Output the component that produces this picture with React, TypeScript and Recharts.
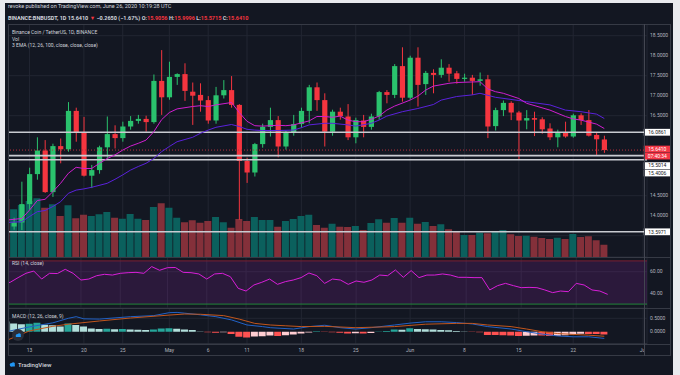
import React from 'react'
import {
  Bar,
  CartesianGrid,
  Cell,
  ComposedChart,
  Line,
  ReferenceArea,
  ReferenceLine,
  XAxis,
  YAxis,
} from 'recharts'

// daily candles, 10 Apr -> 26 Jun 2020, plus empty days up to 1 Jul
const DAYS = [
  '4/10', '4/11', '4/12', '4/13', '4/14', '4/15', '4/16', '4/17', '4/18', '4/19', '4/20',
  '4/21', '4/22', '4/23', '4/24', '4/25', '4/26', '4/27', '4/28', '4/29', '4/30',
  '5/1', '5/2', '5/3', '5/4', '5/5', '5/6', '5/7', '5/8', '5/9', '5/10', '5/11', '5/12',
  '5/13', '5/14', '5/15', '5/16', '5/17', '5/18', '5/19', '5/20', '5/21', '5/22', '5/23',
  '5/24', '5/25', '5/26', '5/27', '5/28', '5/29', '5/30', '5/31',
  '6/1', '6/2', '6/3', '6/4', '6/5', '6/6', '6/7', '6/8', '6/9', '6/10', '6/11', '6/12',
  '6/13', '6/14', '6/15', '6/16', '6/17', '6/18', '6/19', '6/20', '6/21', '6/22', '6/23',
  '6/24', '6/25', '6/26', '6/27', '6/28', '6/29', '6/30', '7/1',
]

const OPEN = [
  15.02, 13.73, 13.83, 14.29, 15.04, 15.63, 14.59, 15.74, 15.66, 16.62, 16.08,
  15.0, 15.14, 15.71, 16.04, 15.94, 16.23, 16.37, 16.42, 16.34, 17.37,
  16.96, 17.47, 17.54, 17.1, 17.02, 16.89, 16.38, 17.01, 17.14, 16.77, 15.37, 15.08,
  15.79, 16.22, 16.39, 15.73, 16.08, 16.29, 16.62, 17.21, 16.89, 16.1, 16.6,
  16.48, 15.96, 16.38, 16.22, 16.48, 17.09, 17.02, 17.74,
  16.95, 17.95, 17.29, 17.57, 17.52, 17.7, 17.56, 17.42, 17.45, 17.37, 17.41, 16.24,
  16.64, 16.82, 16.58, 16.38, 16.44, 16.41, 16.18, 15.96, 16.08, 15.98, 16.51,
  16.39, 16.02, 15.9056,
]
const HIGH = [
  15.1, 13.95, 14.85, 15.2, 15.96, 15.89, 15.8, 15.93, 16.84, 16.7, 16.47,
  15.27, 15.75, 16.48, 16.26, 16.35, 16.49, 16.52, 16.5, 17.53, 18.14,
  17.85, 17.56, 17.81, 17.33, 17.31, 16.99, 17.22, 17.39, 17.49, 16.79, 15.45, 15.82,
  16.3, 16.7, 16.49, 16.12, 16.52, 16.7, 17.27, 17.33, 17.06, 16.65, 16.7,
  16.79, 16.45, 16.52, 16.55, 17.12, 17.14, 17.79, 18.21,
  18.0, 18.21, 17.62, 17.66, 17.91, 17.79, 17.62, 17.55, 17.52, 17.58, 17.52, 16.7,
  16.88, 16.86, 16.62, 16.64, 16.6, 16.46, 16.31, 16.15, 16.35, 16.55, 16.56,
  16.64, 16.08, 15.9996,
]
const LOW = [
  13.6, 13.65, 13.64, 14.15, 14.9, 14.57, 14.47, 15.31, 15.6, 15.85, 14.98,
  14.69, 15.05, 15.43, 15.68, 15.85, 16.15, 16.3, 16.1, 16.3, 16.52,
  16.9, 17.27, 16.87, 16.27, 16.6, 16.3, 16.3, 16.93, 16.7, 13.9, 14.82, 14.98,
  15.7, 15.98, 15.46, 15.65, 16.0, 16.2, 16.31, 16.62, 15.73, 16.0, 16.4,
  15.89, 15.81, 15.96, 16.15, 16.4, 16.81, 16.94, 16.85,
  16.9, 16.73, 17.02, 17.06, 17.45, 17.35, 17.3, 17.35, 17.02, 17.25, 15.94, 16.13,
  16.49, 16.39, 15.41, 16.16, 15.99, 16.05, 15.89, 15.71, 15.95, 15.95, 16.27,
  15.98, 15.52, 15.5715,
]
const CLOSE = [
  13.75, 13.83, 14.29, 15.04, 15.63, 14.59, 15.74, 15.66, 16.62, 16.08, 15.0,
  15.14, 15.71, 16.04, 15.94, 16.23, 16.37, 16.42, 16.34, 17.37, 16.96,
  17.47, 17.54, 17.12, 17.0, 16.88, 16.38, 17.01, 17.14, 16.77, 15.37, 15.08, 15.79,
  16.22, 16.39, 15.73, 16.08, 16.29, 16.62, 17.21, 16.89, 16.1, 16.6, 16.49,
  15.96, 16.39, 16.22, 16.48, 17.09, 17.02, 17.74, 16.95,
  17.95, 17.27, 17.57, 17.52, 17.7, 17.55, 17.42, 17.45, 17.37, 17.41, 16.23, 16.64,
  16.82, 16.58, 16.38, 16.44, 16.4, 16.16, 15.96, 16.08, 15.98, 16.51, 16.39,
  16.0, 15.91, 15.641,
]
// volume, in tens of thousands of BNB
const VOLUME = [
  58, 47.7, 52, 56, 58.7, 49.3, 52.7, 41, 51.7, 38.7, 42.3,
  41, 42.7, 45, 39.3, 38.3, 43, 38.3, 37, 50, 53.7,
  49.3, 39.3, 34.7, 36.7, 34.3, 36, 40, 34.7, 29.3, 38, 36, 40,
  37, 37, 30.3, 36, 38, 41, 42.3, 32, 29.3, 33.3, 30.3,
  30, 31, 27, 34, 37.7, 34.3, 39, 34.3,
  39.3, 33.3, 35, 31, 32.7, 27.7, 25.3, 22, 22, 24.3, 23.7, 25.3,
  27, 22.7, 21, 21.3, 20.3, 19, 18, 19.3, 18, 23, 20,
  20.7, 16.7, 12.3,
]
const RSI = [
  48.5, 50.2, 54.5, 58.5, 60.6, 53.2, 58.5, 58.3, 62.2, 58.5, 52.3,
  53.2, 56.3, 57.6, 56.9, 58.5, 59.1, 59.4, 58.5, 64.7, 61.3,
  63.7, 63.9, 59.4, 59.1, 57.9, 53.2, 57.9, 58.5, 55.4, 44.6, 42.1, 47.7,
  50.2, 53.2, 48.3, 50.8, 52.3, 54.5, 58.8, 56.3, 49.2, 53.2, 52.3,
  48.3, 51.4, 50.2, 52.3, 56.9, 56.3, 61.6, 54.8,
  61.0, 54.5, 56.9, 56.9, 57.9, 56.9, 54.8, 54.8, 54.5, 54.5, 43.1, 47.1,
  49.2, 47.1, 45.2, 45.5, 45.2, 43.1, 40.6, 42.1, 41.5, 49.2, 47.7,
  43.1, 42.1, 39.0,
]
const MACD_HIST = [
  0.38, 0.31, 0.28, 0.3, 0.33, 0.26, 0.24, 0.19, 0.31, 0.25, 0.19,
  0.12, 0.1, 0.11, 0.09, 0.1, 0.08, 0.07, 0.06, 0.08, 0.12,
  0.13, 0.11, 0.08, 0.06, 0.01, -0.02, -0.04, -0.02, -0.09, -0.19, -0.22, -0.18,
  -0.17, -0.14, -0.16, -0.13, -0.1, -0.07, -0.03, 0.02, -0.01, -0.02, -0.04,
  -0.07, -0.06, -0.07, -0.05, 0.01, 0.03, 0.08, 0.07,
  0.13, 0.1, 0.09, 0.08, 0.06, 0.05, 0.03, 0.01, -0.01, -0.02, -0.12, -0.125,
  -0.13, -0.14, -0.16, -0.15, -0.14, -0.145, -0.16, -0.15, -0.13, -0.1, -0.08,
  -0.085, -0.09, -0.1,
]

// [day index, value]
const EMA12: [number, number][] = [
  [0, 13.89], [2, 13.93], [3, 14.14], [4, 14.38], [5, 14.41], [6, 14.6], [7, 14.81],
  [8, 15.06], [9, 15.21], [10, 15.18], [11, 15.18], [12, 15.31], [13, 15.43], [14, 15.52],
  [15, 15.64], [16, 15.74], [17, 15.81], [18, 15.89], [19, 16.1], [20, 16.4], [21, 16.58],
  [22, 16.67], [24, 16.73], [25, 16.75], [26, 16.73], [27, 16.77], [29, 16.83], [30, 16.58],
  [31, 16.36], [32, 16.25], [33, 16.24], [35, 16.26], [36, 16.25], [37, 16.27], [39, 16.37],
  [40, 16.48], [41, 16.48], [42, 16.46], [43, 16.49], [44, 16.39], [45, 16.35], [46, 16.35],
  [47, 16.41], [48, 16.49], [49, 16.64], [50, 16.74], [52, 16.89], [53, 16.99], [54, 17.14],
  [55, 17.24], [57, 17.31], [58, 17.33], [61, 17.35], [62, 17.17], [63, 17.1], [64, 17.06],
  [66, 16.93], [67, 16.81], [70, 16.64], [72, 16.48], [73, 16.42], [74, 16.39], [76, 16.29],
  [77, 16.18],
]
const EMA26: [number, number][] = [
  [0, 13.83], [2, 13.85], [3, 13.98], [4, 14.1], [5, 14.13], [6, 14.23], [7, 14.35],
  [8, 14.56], [9, 14.64], [10, 14.67], [11, 14.71], [13, 14.81], [14, 14.91], [15, 15.02],
  [16, 15.14], [17, 15.23], [18, 15.31], [19, 15.43], [20, 15.6], [21, 15.73], [22, 15.85],
  [24, 15.96], [25, 16.06], [26, 16.14], [27, 16.21], [29, 16.28], [30, 16.23], [31, 16.16],
  [32, 16.14], [33, 16.13], [35, 16.13], [37, 16.14], [38, 16.2], [39, 16.27], [41, 16.31],
  [42, 16.31], [44, 16.27], [45, 16.24], [47, 16.31], [48, 16.39], [49, 16.49], [51, 16.6],
  [53, 16.68], [55, 16.78], [56, 16.89], [58, 16.98], [60, 17.02], [61, 17.06], [63, 16.96],
  [66, 16.88], [67, 16.85], [70, 16.77], [72, 16.64], [74, 16.6], [76, 16.54], [77, 16.43],
]
const MACD_LINE: [number, number][] = [
  [0, 0.0], [3, 0.18], [6, 0.33], [8, 0.5], [9, 0.56], [10, 0.48], [12, 0.47], [16, 0.56],
  [19, 0.6], [21, 0.71], [22, 0.72], [23, 0.69], [25, 0.63], [27, 0.56], [29, 0.44],
  [31, 0.25], [33, 0.19], [34, 0.15], [37, 0.1], [39, 0.19], [41, 0.24], [43, 0.15],
  [45, 0.1], [47, 0.15], [50, 0.25], [52, 0.32], [54, 0.37], [56, 0.37], [58, 0.34],
  [60, 0.29], [62, 0.19], [65, 0.1], [67, 0.0], [69, -0.09], [71, -0.16], [73, -0.19],
  [75, -0.19], [77, -0.25],
]
const MACD_SIGNAL: [number, number][] = [
  [0, -0.33], [3, 0.03], [6, 0.2], [8, 0.28], [12, 0.4], [16, 0.51], [21, 0.62], [23, 0.66],
  [25, 0.65], [28, 0.6], [30, 0.47], [32, 0.31], [34, 0.25], [36, 0.22], [38, 0.19],
  [41, 0.2], [45, 0.15], [50, 0.19], [54, 0.28], [58, 0.31], [60, 0.31], [62, 0.25],
  [65, 0.19], [67, 0.1], [69, 0.0], [71, -0.07], [73, -0.1], [75, -0.13], [77, -0.17],
]

const LEVELS = [16.0861, 15.5014, 15.4006, 13.5971]
const LEVEL_SHIFT = [0, 10, 13.3, 0] // label pushed down so tags don't overlap
const LAST_PRICE = 15.641
const COUNTDOWN = '07:40:34'

const DATE_TICKS = ['4/13', '4/20', '4/25', '5/1', '5/6', '5/11', '5/18', '5/25', '6/1', '6/8', '6/15', '6/22', '7/1']
const DATE_LABELS = ['13', '20', '25', 'May', '6', '11', '18', '25', 'Jun', '8', '15', '22', 'Jul']
const PRICE_GRID = [13.5, 14, 14.5, 15, 15.5, 16, 16.5, 17, 17.5, 18, 18.5]
const PRICE_TICKS = [14, 14.5, 16.5, 17, 17.5, 18, 18.5]

const BG = '#131722'
const GRID = '#222632'
const LINE = '#363a45'
const TXT = '#b2b5be'
const UP = '#2ac26d'
const DOWN = '#f5353f'
const FONT = 'Roboto, "Noto Sans", sans-serif'

const e12 = new Map(EMA12)
const e26 = new Map(EMA26)
const mLine = new Map(MACD_LINE)
const mSig = new Map(MACD_SIGNAL)

const rows = DAYS.map((d, i) => ({
  d,
  o: OPEN[i],
  h: HIGH[i],
  l: LOW[i],
  c: CLOSE[i],
  v: VOLUME[i],
  rsi: RSI[i],
  hist: MACD_HIST[i],
  ema12: e12.get(i) ?? null,
  ema26: e26.get(i) ?? null,
  macd: mLine.get(i) ?? null,
  signal: mSig.get(i) ?? null,
}))

const histColor = (i: number) => {
  const v = MACD_HIST[i]
  const p = i > 0 ? MACD_HIST[i - 1] : v + 0.01
  if (v >= 0) return v >= p ? '#26a69a' : '#b2dfdb'
  return v <= p ? '#ff5252' : '#ffcdd2'
}

const W = 680
const LEFT = 2.35
const AXIS_W = 33
const tickStyle = { fill: TXT, fontSize: 5, fontFamily: FONT }

function Candle(props: any) {
  const { x, y, width, height, payload } = props
  if (!payload || payload.h == null) return null
  const { o, h, l, c } = payload
  const top = Math.min(y, y + height)
  const span = Math.abs(height)
  const py = (v: number) => top + ((h - v) / (h - l)) * span
  const cx = x + width / 2
  const color = c >= o ? UP : DOWN
  const bTop = py(Math.max(o, c))
  const bH = Math.max(1, py(Math.min(o, c)) - bTop)
  return (
    <g>
      <line x1={cx} x2={cx} y1={top} y2={top + span} stroke={color} strokeWidth={1} />
      <rect x={cx - 2.6} y={bTop} width={5.2} height={bH} fill={color} />
    </g>
  )
}

function Tag(props: any) {
  const { viewBox, text, bg, fg, dy = 0, sub } = props
  if (!viewBox) return null
  const x = viewBox.x + viewBox.width - 3.2
  const y = viewBox.y + dy
  return (
    <g style={{ fontFamily: FONT }}>
      <rect x={x} y={y - 3.4} width={27} height={6.8} fill={bg} />
      <text x={x + 13.5} y={y + 1.8} textAnchor="middle" fontSize={5} fill={fg}>
        {text}
      </text>
      {sub ? (
        <>
          <rect x={x} y={y + 3.6} width={27} height={6.8} fill={bg} />
          <text x={x + 13.5} y={y + 8.8} textAnchor="middle" fontSize={5} fill={fg}>
            {sub}
          </text>
        </>
      ) : null}
    </g>
  )
}

function Pane({ top, height, children }: { top: number; height: number; children: React.ReactNode }) {
  return (
    <div style={{ position: 'absolute', left: 8, top, width: 664, height, overflow: 'hidden' }}>
      <div style={{ position: 'absolute', left: -8, top: 0 }}>{children}</div>
    </div>
  )
}

function Cloud({ size = 7 }: { size?: number }) {
  return (
    <svg width={size} height={size * 0.7} viewBox="0 0 20 14">
      <circle cx="7" cy="8" r="5" fill="#2196f3" />
      <circle cx="12" cy="6" r="5" fill="#2196f3" />
      <rect x="4" y="8" width="13" height="5" rx="2.5" fill="#2196f3" />
    </svg>
  )
}

export default function App() {
  const abs = (s: React.CSSProperties): React.CSSProperties => ({ position: 'absolute', ...s })
  return (
    <div style={abs({ left: 0, top: 0, width: 680, height: 375, background: '#e9eaee', overflow: 'hidden', fontFamily: FONT })}>
      <div style={abs({ left: 5, top: 3, width: 668, height: 372, background: BG })} />

      {/* header */}
      <div style={abs({ left: 8, top: 3, fontSize: 5.5, color: '#d1d4dc', whiteSpace: 'nowrap' })}>
        revoke published on TradingView.com, June 26, 2020 10:19:28 UTC
      </div>
      <div style={abs({ left: 8, top: 15, fontSize: 5.5, color: '#d1d4dc', whiteSpace: 'nowrap', fontWeight: 700 })}>
        BINANCE:BNBUSDT, 1D 15.6410 <span style={{ color: DOWN }}>▼</span> −0.2650 (−1.67%) O:
        <span style={{ color: DOWN }}>15.9056</span> H:<span style={{ color: DOWN }}>15.9996</span> L:
        <span style={{ color: DOWN }}>15.5715</span> C:<span style={{ color: DOWN }}>15.6410</span>
      </div>

      {/* main pane: volume + grid underneath */}
      <Pane top={24} height={233}>
        <div style={abs({ left: 0, top: 0 })}>
          <ComposedChart width={W} height={233} data={rows} margin={{ top: 0, right: AXIS_W, bottom: 0, left: LEFT }}>
            <XAxis dataKey="d" hide ticks={DATE_TICKS} interval={0} />
            <YAxis yAxisId="p" hide type="number" domain={[12.9675, 18.7925]} ticks={PRICE_GRID} allowDataOverflow />
            <YAxis yAxisId="v" hide type="number" domain={[0, 233]} allowDataOverflow />
            <CartesianGrid yAxisId="p" stroke={GRID} strokeWidth={1} />
            <Bar yAxisId="v" dataKey="v" barSize={7} isAnimationActive={false}>
              {rows.map((r, i) => (
                <Cell key={i} fill={r.c >= r.o ? '#0b605d' : '#84303a'} />
              ))}
            </Bar>
          </ComposedChart>
        </div>
        <div style={abs({ left: 0, top: 0 })}>
          <ComposedChart width={W} height={233} data={rows} margin={{ top: 0, right: 0, bottom: 0, left: LEFT }}>
            <XAxis dataKey="d" hide />
            <YAxis
              orientation="right"
              width={AXIS_W}
              type="number"
              domain={[12.9675, 18.7925]}
              ticks={PRICE_TICKS}
              tickFormatter={(v: number) => v.toFixed(4)}
              axisLine={false}
              tickLine={false}
              tickSize={0}
              tickMargin={3}
              tick={tickStyle}
              allowDataOverflow
            />
            {LEVELS.map((lv, i) => (
              <ReferenceLine
                key={lv}
                y={lv}
                stroke="#c9cbd1"
                strokeWidth={1.6}
                label={<Tag text={lv.toFixed(4)} bg="#ffffff" fg="#131722" dy={LEVEL_SHIFT[i]} />}
              />
            ))}
            <ReferenceLine
              y={LAST_PRICE}
              stroke="#b8303c"
              strokeDasharray="1 2"
              label={<Tag text={LAST_PRICE.toFixed(4)} sub={COUNTDOWN} bg="#f23645" fg="#ffffff" dy={-1} />}
            />
            <Line dataKey="ema26" stroke="#5b22dc" strokeWidth={1} dot={false} activeDot={false} connectNulls isAnimationActive={false} />
            <Line dataKey="ema12" stroke="#cf1fcf" strokeWidth={1} dot={false} activeDot={false} connectNulls isAnimationActive={false} />
            <Bar dataKey={(r: any) => (r.h == null ? null : [r.l, r.h])} barSize={6} shape={Candle} isAnimationActive={false} />
          </ComposedChart>
        </div>
      </Pane>

      {/* RSI pane */}
      <Pane top={257} height={51}>
        <ComposedChart width={W} height={51} data={rows} margin={{ top: 0, right: 0, bottom: 0, left: LEFT }}>
          <XAxis dataKey="d" hide ticks={DATE_TICKS} interval={0} />
          <YAxis
            orientation="right"
            width={AXIS_W}
            type="number"
            domain={[26.39, 73.61]}
            ticks={[40, 60]}
            tickFormatter={(v: number) => v.toFixed(2)}
            axisLine={false}
            tickLine={false}
            tickSize={0}
            tickMargin={3}
            tick={tickStyle}
            allowDataOverflow
          />
          <CartesianGrid stroke={GRID} />
          <ReferenceArea y1={30} y2={70} fill="#9c27b0" fillOpacity={0.18} stroke="none" />
          <ReferenceLine y={70} stroke="#7c1f35" strokeWidth={1} />
          <ReferenceLine y={30} stroke="#23843a" strokeWidth={1} />
          <Line dataKey="rsi" stroke="#d81fd8" strokeWidth={1} dot={false} activeDot={false} isAnimationActive={false} />
        </ComposedChart>
      </Pane>

      {/* MACD pane + date axis */}
      <Pane top={308} height={48}>
        <ComposedChart width={W} height={48} data={rows} margin={{ top: 0, right: 0, bottom: 0, left: LEFT }}>
          <XAxis
            dataKey="d"
            ticks={DATE_TICKS}
            interval={0}
            height={12}
            tickFormatter={(v: string) => DATE_LABELS[DATE_TICKS.indexOf(v)] ?? ''}
            axisLine={{ stroke: LINE }}
            tickLine={false}
            tickSize={0}
            tickMargin={4}
            tick={tickStyle}
          />
          <YAxis
            orientation="right"
            width={AXIS_W}
            type="number"
            domain={[-0.459, 0.884]}
            ticks={[0, 0.5]}
            tickFormatter={(v: number) => v.toFixed(4)}
            axisLine={false}
            tickLine={false}
            tickSize={0}
            tickMargin={3}
            tick={tickStyle}
            allowDataOverflow
          />
          <CartesianGrid stroke={GRID} />
          <Bar dataKey="hist" barSize={7} isAnimationActive={false}>
            {rows.map((_, i) => (
              <Cell key={i} fill={i < MACD_HIST.length ? histColor(i) : 'none'} />
            ))}
          </Bar>
          <Line dataKey="macd" stroke="#2262c6" strokeWidth={1} dot={false} activeDot={false} connectNulls isAnimationActive={false} />
          <Line dataKey="signal" stroke="#c2561d" strokeWidth={1} dot={false} activeDot={false} connectNulls isAnimationActive={false} />
        </ComposedChart>
      </Pane>

      {/* frame */}
      <div style={abs({ left: 645, top: 345, width: 26, height: 11, background: BG })} />
      <div style={abs({ left: 8, top: 24, width: 663, height: 332, border: `1px solid ${LINE}`, boxSizing: 'border-box' })} />
      <div style={abs({ left: 8, top: 257, width: 663, height: 1, background: LINE })} />
      <div style={abs({ left: 8, top: 308, width: 663, height: 1, background: LINE })} />
      <div style={abs({ left: 8, top: 344, width: 663, height: 1, background: LINE })} />
      <div style={abs({ left: 644, top: 24, width: 1, height: 332, background: '#434651' })} />

      {/* pane legends */}
      <div style={abs({ left: 12, top: 29, fontSize: 5, lineHeight: '6.5px', color: '#d1d4dc', whiteSpace: 'nowrap' })}>
        <div>Binance Coin / TetherUS, 1D, BINANCE</div>
        <div>Vol</div>
        <div>3 EMA (12, 26, 100, close, close, close)</div>
      </div>
      <div style={abs({ left: 12, top: 260, fontSize: 5, color: '#d1d4dc', whiteSpace: 'nowrap' })}>RSI (14, close)</div>
      <div style={abs({ left: 12, top: 312.5, fontSize: 5, color: '#d1d4dc', whiteSpace: 'nowrap' })}>MACD (12, 26, close, 9)</div>

      {/* watermark badges */}
      <div style={abs({ left: 12, top: 329, width: 12, height: 12, borderRadius: 6, background: '#2a2e39', display: 'flex', alignItems: 'center', justifyContent: 'center' })}>
        <Cloud size={7} />
      </div>
      <div style={abs({ left: 9, top: 361, display: 'flex', alignItems: 'center', gap: 2, fontSize: 6, color: '#d1d4dc', fontWeight: 500 })}>
        <Cloud size={7} />
        <span>TradingView</span>
      </div>
    </div>
  )
}
